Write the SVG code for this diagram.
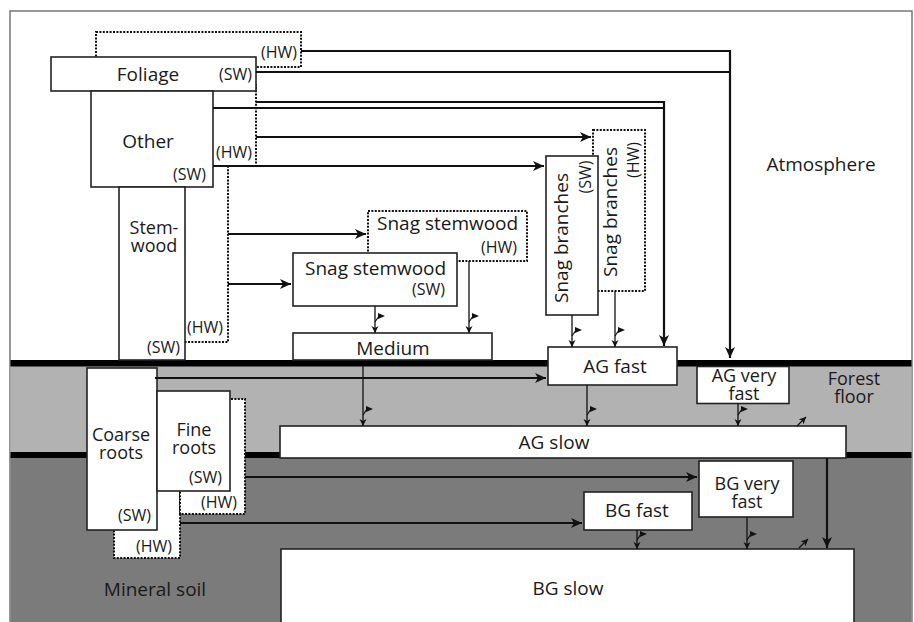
<svg xmlns="http://www.w3.org/2000/svg" width="914" height="622" viewBox="0 0 914 622">
<defs>
<style>
.t{font-family:"Open Sans","Liberation Sans",sans-serif;font-size:19px;fill:#1a1a1a}
.s{font-size:16px}
.ml{font-size:18px}
.m{text-anchor:middle}
.e{text-anchor:end}
.b{fill:#fff;stroke:#222;stroke-width:1.6}
.h{fill:#fff;stroke:#111;stroke-width:2;stroke-dasharray:2 1.4}
.a{fill:none;stroke:#111;stroke-width:2.2}
.d{fill:none;stroke:#111;stroke-width:1.3}
</style>
<marker id="ah" markerWidth="12" markerHeight="10" refX="11" refY="5" orient="auto" markerUnits="userSpaceOnUse"><path d="M0,0 L11,5 L0,10 L3,5 z" fill="#111"/></marker>
<marker id="sh" markerWidth="8" markerHeight="8" refX="7" refY="3.5" orient="auto" markerUnits="userSpaceOnUse"><path d="M0,0 L7,3.5 L0,7 L2,3.5 z" fill="#111"/></marker>
<g id="dk"><path d="M0,0 L4,-6" fill="none" stroke="#111" stroke-width="1.2"/><path d="M3,-9 L10,-6 L3,-3 Z" fill="#111"/></g>
</defs>
<g id="background">
<rect x="0" y="0" width="914" height="622" fill="#fff"/>
<rect x="10" y="11" width="902" height="620" fill="#fff" stroke="#777" stroke-width="1.5"/>
<rect x="10.5" y="366" width="901" height="89" fill="#b2b2b2"/>
<rect x="10.5" y="455" width="901" height="170" fill="#7b7b7b"/>
<rect x="10.5" y="360" width="901" height="6.5" fill="#000"/>
<rect x="10.5" y="452" width="901" height="6" fill="#000"/>
<text class="t m" x="821" y="171">Atmosphere</text>
<text class="t ml m" x="854" y="385">Forest<tspan x="854" dy="18">floor</tspan></text>
<text class="t m" x="155" y="596">Mineral soil</text>
</g>
<g id="foliage-hw"><rect class="h" x="96" y="32" width="205" height="35"/><text class="t s e" x="297" y="58">(HW)</text></g>
<g id="other-hw"><rect class="h" x="200" y="85" width="56" height="81"/><text class="t s e" x="252" y="158">(HW)</text></g>
<g id="stemwood-hw"><rect class="h" x="170" y="166" width="58" height="176"/><text class="t s e" x="223" y="333">(HW)</text></g>
<g id="foliage"><rect class="b" x="51" y="57" width="205" height="34"/><text class="t m" x="148" y="81">Foliage</text><text class="t s e" x="252" y="80">(SW)</text></g>
<g id="other"><rect class="b" x="91" y="91" width="122" height="96"/><text class="t m" x="148" y="148">Other</text><text class="t s e" x="206" y="180">(SW)</text></g>
<g id="stemwood"><rect class="b" x="119" y="187" width="66" height="173"/><text class="t ml m" x="154" y="234">Stem-<tspan x="154" dy="18">wood</tspan></text><text class="t s e" x="180" y="353">(SW)</text></g>
<g id="snag-stemwood-hw"><rect class="h" x="368" y="211" width="159" height="50"/><text class="t" x="377" y="230">Snag stemwood</text><text class="t s e" x="517" y="253">(HW)</text></g>
<g id="snag-stemwood-sw"><rect class="b" x="293" y="253" width="164" height="53"/><text class="t" x="305" y="275">Snag stemwood</text><text class="t s e" x="445" y="295">(SW)</text></g>
<g id="medium"><rect class="b" x="293" y="333" width="199" height="27"/><text class="t m" x="393" y="355">Medium</text></g>
<g id="snag-branches-hw"><rect class="h" x="593" y="130" width="52" height="161"/><text class="t m" transform="translate(617,212) rotate(-90)">Snag branches</text><text class="t s m" transform="translate(639,160) rotate(-90)">(HW)</text></g>
<g id="snag-branches-sw"><rect class="b" x="546" y="156" width="52" height="159"/><text class="t m" transform="translate(568,238) rotate(-90)">Snag branches</text><text class="t s m" transform="translate(591,177) rotate(-90)">(SW)</text></g>
<g id="ag-fast"><rect class="b" x="548" y="347" width="129" height="38"/><text class="t m" x="615" y="373">AG fast</text></g>
<g id="ag-very-fast"><rect class="b" x="697" y="366.5" width="92" height="37"/><text class="t ml m" x="744" y="382">AG very<tspan x="744" dy="18">fast</tspan></text></g>
<g id="ag-slow"><rect class="b" x="280" y="426" width="566" height="32"/><text class="t m" x="554" y="449">AG slow</text></g>
<g id="coarse-roots-hw"><rect class="h" x="114" y="420" width="66" height="138"/><text class="t s e" x="172" y="552">(HW)</text></g>
<g id="fine-roots-hw"><rect class="h" x="180" y="399" width="65" height="115"/><text class="t s e" x="237" y="508">(HW)</text></g>
<g id="coarse-roots"><rect class="b" x="87" y="368" width="70" height="162"/><text class="t ml m" x="121" y="441">Coarse<tspan x="121" dy="18">roots</tspan></text><text class="t s e" x="151" y="521">(SW)</text></g>
<g id="fine-roots"><rect class="b" x="157" y="391" width="73" height="100"/><text class="t ml m" x="194" y="436">Fine<tspan x="194" dy="18">roots</tspan></text><text class="t s e" x="222" y="483">(SW)</text></g>
<g id="bg-very-fast"><rect class="b" x="699" y="461" width="94" height="56"/><text class="t ml m" x="747" y="490">BG very<tspan x="747" dy="18">fast</tspan></text></g>
<g id="bg-fast"><rect class="b" x="584" y="492" width="108" height="38"/><text class="t m" x="637" y="517">BG fast</text></g>
<g id="bg-slow"><rect class="b" x="281" y="549" width="573" height="80"/><text class="t m" x="568" y="595">BG slow</text></g>
<g id="connectors">
<path class="a" d="M301,51 H730 V358" marker-end="url(#ah)"/>
<path class="a" d="M256,72 H730"/>
<path class="a" d="M256,102 H664 V346" marker-end="url(#ah)"/>
<path class="a" d="M213,108 H664"/>
<path class="a" d="M256,137 H591" marker-end="url(#ah)"/>
<path class="a" d="M213,166 H544" marker-end="url(#ah)"/>
<path class="a" d="M228,234 H366" marker-end="url(#ah)"/>
<path class="a" d="M228,284 H291" marker-end="url(#ah)"/>
<path class="a" d="M155,378 H546" marker-end="url(#ah)"/>
<path class="a" d="M245,477 H697" marker-end="url(#ah)"/>
<path class="a" d="M180,523 H582" marker-end="url(#ah)"/>
<path class="a" d="M827,458 V548" stroke-width="2.6" marker-end="url(#ah)"/>
<path class="d" d="M375,306 V333" marker-end="url(#sh)"/>
<path class="d" d="M469,261 V333" marker-end="url(#sh)"/>
<path class="d" d="M572,315 V347" marker-end="url(#sh)"/>
<path class="d" d="M615,291 V347" marker-end="url(#sh)"/>
<path class="d" d="M363,366 V426" marker-end="url(#sh)"/>
<path class="d" d="M587,385 V426" marker-end="url(#sh)"/>
<path class="d" d="M738,403 V426" marker-end="url(#sh)"/>
<path class="d" d="M637,530 V549" marker-end="url(#sh)"/>
<path class="d" d="M747,517 V549" marker-end="url(#sh)"/>
<use href="#dk" x="375" y="322"/>
<use href="#dk" x="469" y="322"/>
<use href="#dk" x="572" y="336"/>
<use href="#dk" x="615" y="336"/>
<use href="#dk" x="363" y="415"/>
<use href="#dk" x="587" y="415"/>
<use href="#dk" x="738" y="415"/>
<use href="#dk" x="637" y="540"/>
<use href="#dk" x="747" y="540"/>
<path class="d" d="M797,426 L806,417" marker-end="url(#sh)"/>
<path class="d" d="M799,548 L808,539" marker-end="url(#sh)"/>
</g>
</svg>
